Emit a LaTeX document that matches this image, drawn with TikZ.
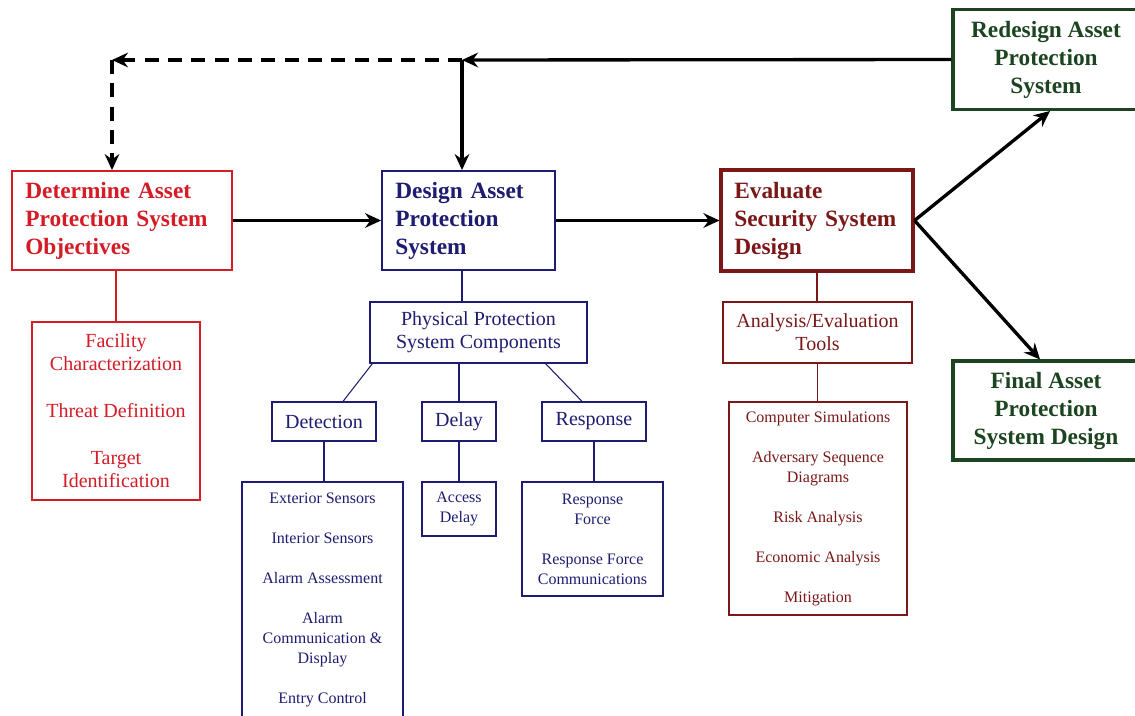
\documentclass[tikz,border=0pt]{standalone}
\usepackage{fontspec}
\setmainfont{Liberation Serif}
\usetikzlibrary{arrows.meta,calc}

\definecolor{objred}{RGB}{212,28,38}
\definecolor{desnavy}{RGB}{30,28,112}
\definecolor{evamaroon}{RGB}{122,24,24}
\definecolor{redgreen}{RGB}{28,68,32}

\tikzset{
    mainbox/.style={draw, line width=1.4pt, font=\fontsize{17.5}{21}\selectfont\bfseries, inner xsep=10pt, inner ysep=0pt, align=left},
    endbox/.style={draw, line width=2.3pt, font=\fontsize{17.5}{21}\selectfont\bfseries, inner sep=0pt, align=center},
    listbox/.style={draw, line width=0.9pt, inner sep=0pt, align=center},
    midtext/.style={font=\fontsize{15}{17.25}\selectfont},
    smalltext/.style={font=\fontsize{12}{15}\selectfont},
    flow/.style={line width=2.5pt, -{Stealth[length=12pt,width=11pt,inset=4pt]}},
    dashline/.style={dash pattern=on 10.5pt off 7pt},
    link/.style={line width=0.8pt},
}

\begin{document}
\begin{tikzpicture}[x=0.75pt, y=-0.75pt]
    \useasboundingbox[fill=white] (0,0) rectangle (1135,715);

    % top level boxes
    \node[mainbox, objred, text width=145pt, minimum height=74.25pt] (det) at (122,220.5) {Determine Asset\\Protection System\\Objectives};
    \node[mainbox, desnavy, text width=109.75pt, minimum height=74.25pt] (des) at (468.5,220.5) {Design Asset\\Protection\\System};
    \node[mainbox, evamaroon, line width=2.3pt, text width=124pt, minimum height=75.75pt] (eva) at (817,220.5) {Evaluate\\Security System\\Design};
    \node[endbox, redgreen, minimum width=139.5pt, minimum height=75pt] (red) at (1046,59.5) {Redesign Asset\\Protection\\System};
    \node[endbox, redgreen, minimum width=139.5pt, minimum height=74.25pt] (fin) at (1046,410.5) {Final Asset\\Protection\\System Design};

    % second level
    \node[listbox, objred, midtext, minimum width=126pt, minimum height=133.5pt] (fac) at (116,411) {Facility\\Characterization\\[18pt]Threat Definition\\[18pt]Target\\Identification};
    \node[listbox, desnavy, midtext, minimum width=162.75pt, minimum height=45.75pt] (phy) at (478.5,332.5) {Physical Protection\\System Components};
    \node[listbox, evamaroon, midtext, minimum width=141.75pt, minimum height=45.75pt] (ana) at (817.5,332.5) {Analysis/Evaluation\\Tools};

    % components
    \node[listbox, desnavy, midtext, minimum width=78pt, minimum height=29.25pt] (dtc) at (324,421.5) {Detection};
    \node[listbox, desnavy, midtext, minimum width=55.5pt, minimum height=29.25pt] (dly) at (459,421.5) {Delay};
    \node[listbox, desnavy, midtext, minimum width=78pt, minimum height=29.25pt] (rsp) at (594,421.5) {Response};

    % lists
    \node[listbox, desnavy, smalltext, minimum width=120.75pt, minimum height=177pt] (dtl) at (322.5,600) {Exterior Sensors\\[15pt]Interior Sensors\\[15pt]Alarm Assessment\\[15pt]Alarm\\Communication \&\\Display\\[15pt]Entry Control};
    \node[listbox, desnavy, smalltext, minimum width=55.5pt, minimum height=40.5pt] (acc) at (459,509) {Access\\Delay};
    \node[listbox, desnavy, smalltext, minimum width=105.75pt, minimum height=85.5pt] (rsl) at (592.5,539) {Response\\Force\\[15pt]Response Force\\Communications};
    \node[listbox, evamaroon, smalltext, minimum width=133.5pt, minimum height=159.75pt] (anl) at (818,508.5) {Computer Simulations\\[15pt]Adversary Sequence\\Diagrams\\[15pt]Risk Analysis\\[15pt]Economic Analysis\\[15pt]Mitigation};

    % feedback corners
    \coordinate (J) at (462,60);
    \coordinate (K) at (112,60);

    % main flow
    \draw[flow] (red.west) -- (J);
    \draw[flow] (J) -- (J |- des.north);
    \draw[flow, dashline] (J) -- (K);
    \draw[flow, dashline] (K) -- (K |- det.north);
    \draw[flow] (det.east) -- (des.west);
    \draw[flow] (des.east) -- (eva.west);
    \draw[flow] (eva.east) -- ($(red.south)+(4,0)$);
    \draw[flow] (eva.east) -- ($(fin.north)+(-6,0)$);

    % thin links
    \draw[link, objred] (fac.north |- det.south) -- (fac.north);
    \draw[link, desnavy] (J |- des.south) -- (J |- phy.north);
    \draw[link, desnavy] ($(phy.south west)+(3,0)$) -- ($(dtc.north)+(19,0)$);
    \draw[link, desnavy] (dly.north |- phy.south) -- (dly.north);
    \draw[link, desnavy] ($(phy.south east)+(-42,0)$) -- ($(rsp.north)+(-12,0)$);
    \draw[link, desnavy] (dtc.south) -- (dtc.south |- dtl.north);
    \draw[link, desnavy] (dly.south) -- (acc.north);
    \draw[link, desnavy] (rsp.south) -- (rsp.south |- rsl.north);
    \draw[link, evamaroon] (eva.south) -- (eva.south |- ana.north);
    \draw[link, evamaroon] (ana.south) -- (ana.south |- anl.north);
\end{tikzpicture}
\end{document}
